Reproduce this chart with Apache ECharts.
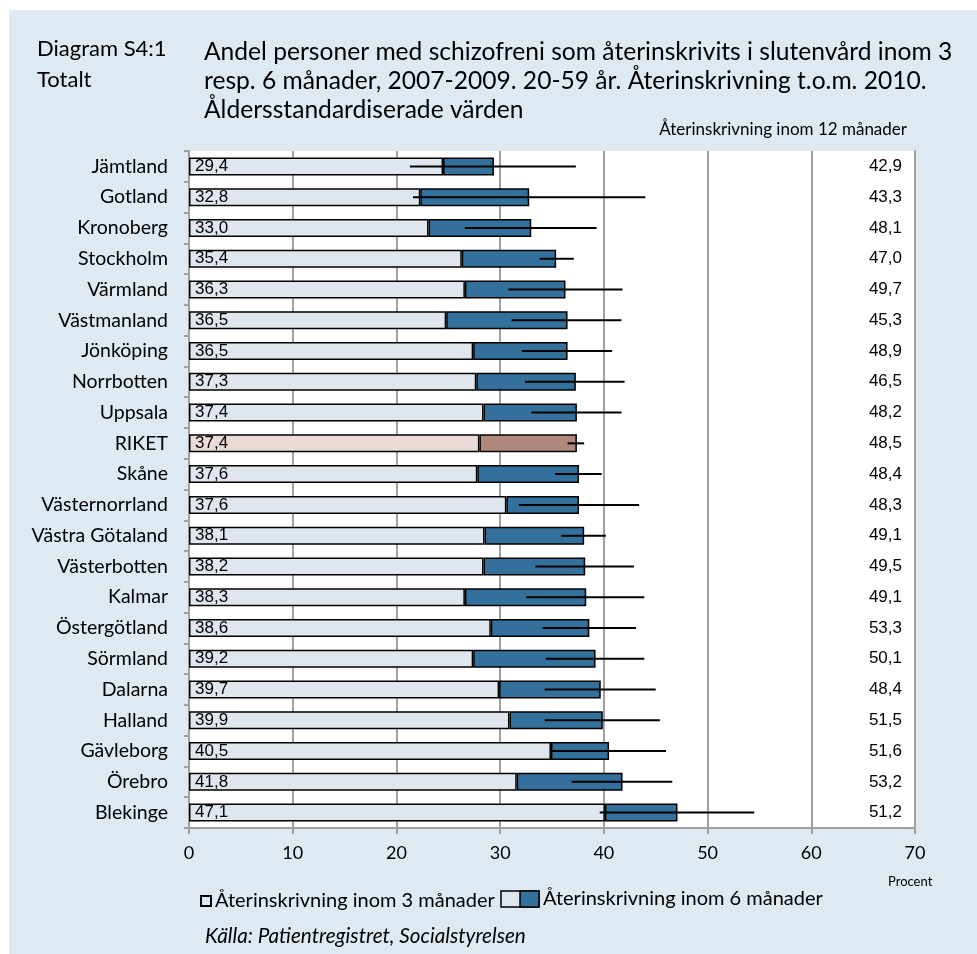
<!DOCTYPE html>
<html>
<head>
<meta charset="utf-8">
<script src="https://cdn.jsdelivr.net/npm/echarts@6/dist/echarts.min.js"></script>
<style>
  html, body { margin: 0; padding: 0; background: #fff; }
  #chart { width: 977px; height: 954px; }
</style>
</head>
<body>
<div id="chart"></div>
<script>
// regions, sorted by 6 month value
var regions = ['Jämtland', 'Gotland', 'Kronoberg', 'Stockholm', 'Värmland', 'Västmanland',
    'Jönköping', 'Norrbotten', 'Uppsala', 'RIKET', 'Skåne', 'Västernorrland',
    'Västra Götaland', 'Västerbotten', 'Kalmar', 'Östergötland', 'Sörmland', 'Dalarna',
    'Halland', 'Gävleborg', 'Örebro', 'Blekinge'];
var threeMonths = [24.5, 22.3, 23.1, 26.3, 26.6, 24.8, 27.4, 27.7, 28.4, 28.0, 27.8, 30.6,
    28.5, 28.4, 26.6, 29.1, 27.4, 29.9, 30.9, 34.9, 31.6, 40.1];
var sixMonths = [29.4, 32.8, 33.0, 35.4, 36.3, 36.5, 36.5, 37.3, 37.4, 37.4, 37.6, 37.6,
    38.1, 38.2, 38.3, 38.6, 39.2, 39.7, 39.9, 40.5, 41.8, 47.1];
var twelveMonths = [42.9, 43.3, 48.1, 47.0, 49.7, 45.3, 48.9, 46.5, 48.2, 48.5, 48.4, 48.3,
    49.1, 49.5, 49.1, 53.3, 50.1, 48.4, 51.5, 51.6, 53.2, 51.2];
// confidence interval of the 6 month value
var ciLow = [21.3, 21.6, 26.6, 33.8, 30.8, 31.1, 32.1, 32.4, 33.0, 36.5, 35.3, 31.8,
    35.9, 33.4, 32.5, 34.1, 34.4, 34.3, 34.3, 34.9, 36.9, 39.6];
var ciHigh = [37.3, 44.0, 39.3, 37.1, 41.8, 41.7, 40.8, 42.0, 41.7, 38.1, 39.8, 43.4,
    40.2, 42.9, 43.9, 43.1, 43.9, 45.0, 45.4, 46.0, 46.6, 54.5];
var xTicks = [0, 10, 20, 30, 40, 50, 60, 70];

var name3 = 'Återinskrivning inom 3 månader';
var name6 = 'Återinskrivning inom 6 månader';

var lightCol = '#dfe6ee', blueCol = '#33709b';
var rikLight = '#ecdad8', rikDark = '#b3887c';
var calibri = 'Lato, "Open Sans", sans-serif';
var arial = '"Liberation Sans", Arial, sans-serif';

function fmt(v) { return v.toFixed(1).replace('.', ','); }

var data3 = threeMonths.map(function (v, i) {
    if (regions[i] === 'RIKET') return { value: v, itemStyle: { color: rikLight } };
    return v;
});
var data6 = sixMonths.map(function (v, i) {
    var d = Math.round((v - threeMonths[i]) * 10) / 10;
    if (regions[i] === 'RIKET') return { value: d, itemStyle: { color: rikDark } };
    return d;
});
var ciData = ciLow.map(function (lo, i) { return [lo, ciHigh[i], i]; });

var legendIcon = 'image://data:image/svg+xml;utf8,' + encodeURIComponent(
    '<svg xmlns="http://www.w3.org/2000/svg" width="40" height="18">' +
    '<rect x="1" y="1" width="38" height="16" fill="' + lightCol + '" stroke="#000" stroke-width="1.5"/>' +
    '<rect x="20" y="1" width="19" height="16" fill="' + blueCol + '" stroke="#000" stroke-width="1.5"/>' +
    '</svg>');

var myChart = echarts.init(document.getElementById('chart'));
var option = {
    backgroundColor: '#fff',
    animation: false,
    graphic: [{
        type: 'rect', left: 9, top: 10, z: -10,
        shape: { width: 968, height: 944 },
        style: { fill: '#dfe9f1' }
    }],
    title: [{
        text: 'Diagram S4:1\nTotalt',
        left: 32, top: 28,
        textStyle: { fontFamily: calibri, fontSize: 22, fontWeight: 'normal', color: '#000', lineHeight: 31 }
    }, {
        text: 'Andel personer med schizofreni som återinskrivits i slutenvård inom 3\n' +
            'resp. 6 månader, 2007-2009. 20-59 år. Återinskrivning t.o.m. 2010.\n' +
            'Åldersstandardiserade värden',
        left: 199, top: 33,
        textStyle: { fontFamily: calibri, fontSize: 24.6, fontWeight: 'normal', color: '#000', lineHeight: 29 }
    }, {
        text: 'Återinskrivning inom 12 månader',
        right: 65, top: 116,
        textStyle: { fontFamily: calibri, fontSize: 17, fontWeight: 'normal', color: '#000' }
    }, {
        text: 'Procent',
        left: 883, top: 870,
        textStyle: { fontFamily: calibri, fontSize: 13, fontWeight: 'normal', color: '#000' }
    }, {
        text: 'Källa: Patientregistret, Socialstyrelsen',
        left: 200, top: 921,
        textStyle: { fontFamily: calibri, fontSize: 20.7, fontWeight: 'normal', fontStyle: 'italic', color: '#000' }
    }],
    legend: [{
        data: [{ name: name3, icon: 'rect' }],
        left: 195, top: 886,
        itemWidth: 10, itemHeight: 10, itemGap: 4,
        selectedMode: false,
        textStyle: { fontFamily: calibri, fontSize: 20, color: '#000', padding: [0, 0, 0, -1] }
    }, {
        data: [{ name: name6, icon: legendIcon }],
        left: 495, top: 884,
        itemWidth: 40, itemHeight: 18,
        selectedMode: false,
        textStyle: { fontFamily: calibri, fontSize: 20, color: '#000', padding: [0, 0, 0, -2] }
    }],
    grid: {
        left: 189, right: 62, top: 151, bottom: 126,
        show: true, backgroundColor: '#fff', borderWidth: 0
    },
    xAxis: {
        type: 'value', min: xTicks[0], max: xTicks[xTicks.length - 1], interval: 10,
        axisLine: { show: true, lineStyle: { color: '#a0a0a0', width: 2 } },
        axisTick: { show: true, length: 6, lineStyle: { color: '#a0a0a0', width: 2 } },
        splitLine: { show: true, lineStyle: { color: '#a0a0a0', width: 2 } },
        axisLabel: { fontFamily: calibri, fontSize: 18, color: '#000', margin: 16 }
    },
    yAxis: [{
        type: 'category', data: regions, inverse: true,
        axisLine: { show: true, lineStyle: { color: '#a0a0a0', width: 2 } },
        axisTick: { show: true, length: 5, lineStyle: { color: '#a0a0a0', width: 2 } },
        axisLabel: { fontFamily: calibri, fontSize: 19.5, color: '#000', margin: 21 }
    }, {
        type: 'category', inverse: true, position: 'right',
        data: twelveMonths.map(fmt),
        axisLine: { show: true, lineStyle: { color: '#a0a0a0', width: 2 } },
        axisTick: { show: false },
        axisLabel: { inside: true, fontFamily: arial, fontSize: 17, color: '#000', margin: 13 }
    }],
    series: [{
        name: name3, type: 'bar', stack: 'tot', barWidth: 18,
        data: data3,
        itemStyle: { color: lightCol, borderColor: '#000', borderWidth: 1.5 },
        label: {
            show: true, position: 'insideLeft', distance: 6,
            fontFamily: arial, fontSize: 17, color: '#000',
            formatter: function (p) { return fmt(sixMonths[p.dataIndex]); }
        }
    }, {
        name: name6, type: 'bar', stack: 'tot', barWidth: 18,
        data: data6,
        itemStyle: { color: blueCol, borderColor: '#000', borderWidth: 1.5 }
    }, {
        name: 'ci', type: 'custom', z: 5,
        data: ciData,
        encode: { x: [0, 1], y: 2 },
        renderItem: function (params, api) {
            var a = api.coord([api.value(0), api.value(2)]);
            var b = api.coord([api.value(1), api.value(2)]);
            return {
                type: 'line',
                shape: { x1: a[0], y1: a[1], x2: b[0], y2: b[1] },
                style: { stroke: '#000', lineWidth: 2 }
            };
        }
    }]
};
myChart.setOption(option);
</script>
</body>
</html>
